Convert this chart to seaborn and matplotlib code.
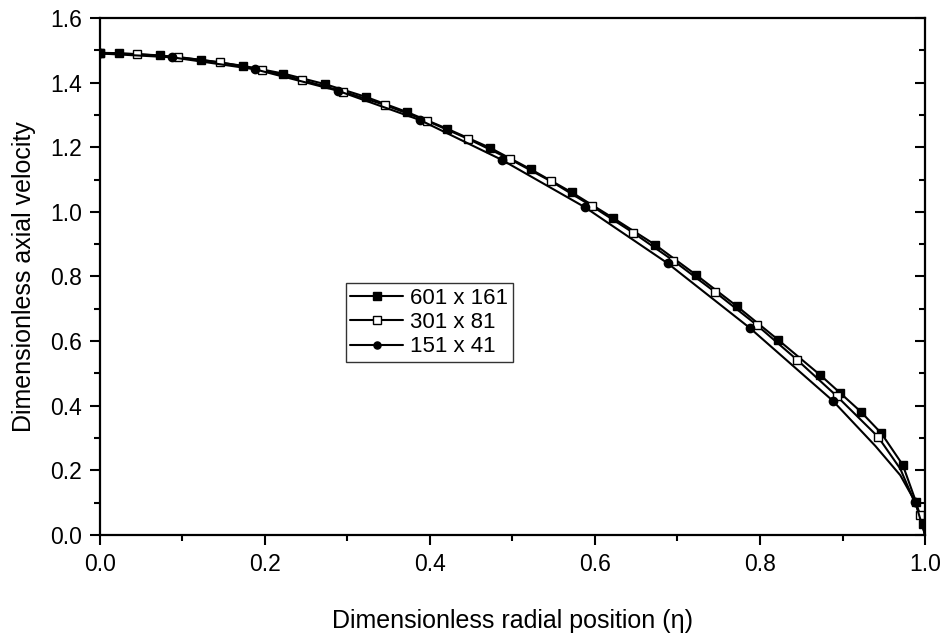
import matplotlib
matplotlib.use("Agg")
import matplotlib.pyplot as plt
import matplotlib.lines as mlines
import seaborn as sns
import numpy as np
import pandas as pd
from matplotlib.ticker import MultipleLocator

# ---- data ----
# 601 x 161 (filled squares); last point (1.0, 0.0) is line-only
x_601 = [0.0, 0.023, 0.073, 0.123, 0.173, 0.222, 0.273, 0.322, 0.372, 0.421,
         0.473, 0.522, 0.572, 0.622, 0.673, 0.722, 0.772, 0.822, 0.873, 0.897,
         0.922, 0.947, 0.973, 0.989, 0.997, 1.0]
y_601 = [1.492, 1.491, 1.484, 1.470, 1.452, 1.428, 1.395, 1.356, 1.309, 1.257,
         1.198, 1.132, 1.060, 0.981, 0.898, 0.806, 0.708, 0.604, 0.495, 0.440,
         0.382, 0.315, 0.217, 0.103, 0.034, 0.0]
mk_601 = list(range(0, 25))

# 301 x 81 (open squares); 0.97 and 1.0 are line-only
x_301 = [0.0, 0.045, 0.095, 0.145, 0.196, 0.245, 0.295, 0.345, 0.396, 0.446,
         0.497, 0.547, 0.596, 0.646, 0.695, 0.745, 0.796, 0.845, 0.893, 0.943,
         0.970, 0.994, 1.0]
y_301 = [1.490, 1.488, 1.479, 1.463, 1.440, 1.408, 1.372, 1.331, 1.282, 1.226,
         1.163, 1.094, 1.018, 0.936, 0.849, 0.753, 0.650, 0.542, 0.430, 0.304,
         0.205, 0.062, 0.0]
mk_301 = list(range(0, 20)) + [21]

# 151 x 41 (filled circles); 0.94, 0.97 and 1.0 are line-only
x_151 = [0.0, 0.088, 0.188, 0.288, 0.388, 0.487, 0.588, 0.688, 0.788, 0.888,
         0.940, 0.970, 0.988, 1.0]
y_151 = [1.490, 1.478, 1.441, 1.375, 1.284, 1.161, 1.014, 0.841, 0.640, 0.416,
         0.275, 0.185, 0.103, 0.0]
mk_151 = list(range(0, 10)) + [12]

labels = ["601 x 161", "301 x 81", "151 x 41"]
x_ticks = [0.0, 0.2, 0.4, 0.6, 0.8, 1.0]
y_ticks = [0.0, 0.2, 0.4, 0.6, 0.8, 1.0, 1.2, 1.4, 1.6]

# ---- plot ----
sns.set_style("ticks")
plt.rcParams["font.family"] = ["Liberation Sans", "DejaVu Sans"]
plt.rcParams["text.color"] = "black"
plt.rcParams["axes.labelcolor"] = "black"

fig = plt.figure(figsize=(9.42, 6.40), dpi=100)
ax = fig.add_axes([0.106, 0.164, 0.876, 0.808])

series = [
    (x_601, y_601, mk_601, "s", "black"),
    (x_301, y_301, mk_301, "s", "white"),
    (x_151, y_151, mk_151, "o", "black"),
]
for (xs, ys, mk, m, fc), lab in zip(series, labels):
    df = pd.DataFrame({"x": xs, "y": ys})
    sns.lineplot(data=df, x="x", y="y", ax=ax, sort=False, estimator=None,
                 color="black", linewidth=1.5, marker=m, markersize=6,
                 markerfacecolor=fc, markeredgecolor="black",
                 markeredgewidth=1.0, markevery=mk, label=lab)

ax.set_xlim(0, 1.0)
ax.set_ylim(0, 1.6)
ax.set_xticks(x_ticks)
ax.set_yticks(y_ticks)
ax.set_xticklabels([f"{v:.1f}" for v in x_ticks])
ax.set_yticklabels([f"{v:.1f}" for v in y_ticks])
ax.xaxis.set_minor_locator(MultipleLocator(0.1))
ax.yaxis.set_minor_locator(MultipleLocator(0.1))

for s in ax.spines.values():
    s.set_visible(True)
    s.set_linewidth(1.6)
    s.set_color("black")

ax.tick_params(axis="both", which="major", direction="out", length=7,
               width=1.5, labelsize=16.5, colors="black", labelcolor="black",
               pad=6)
ax.tick_params(axis="both", which="minor", direction="out", length=4,
               width=1.5, colors="black")
ax.tick_params(axis="x", which="both", top=False, labeltop=False)
ax.tick_params(axis="y", which="both", right=True, labelright=False)
# right-side ticks point inward
for t in ax.yaxis.get_major_ticks() + ax.yaxis.get_minor_ticks():
    t.tick2line.set_marker(mlines.TICKLEFT)

ax.set_xlabel("Dimensionless radial position (η)", fontsize=18, labelpad=24,
              color="black")
ax.set_ylabel("Dimensionless axial velocity", fontsize=18, labelpad=10,
              color="black")

leg = ax.legend(loc="center", bbox_to_anchor=(0.399, 0.411), fontsize=16,
                frameon=True, fancybox=False, edgecolor="black",
                handlelength=2.4, handletextpad=0.3, borderpad=0.2,
                labelspacing=0.15, borderaxespad=0, markerscale=0.85)
leg.get_frame().set_linewidth(1.0)
for t in leg.get_texts():
    t.set_color("black")

fig.savefig("out.png", dpi=100)
